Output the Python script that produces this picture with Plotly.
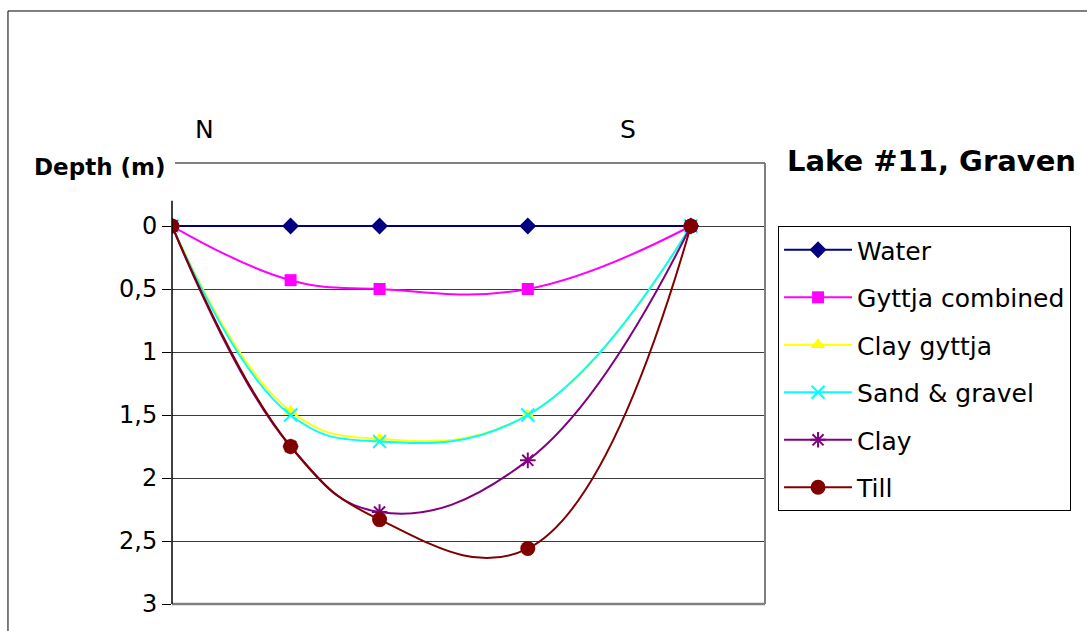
import plotly.graph_objects as go

distance = [0, 40, 70, 120, 175]
water = [0, 0, 0, 0, 0]
gyttja_combined = [0, 0.43, 0.5, 0.5, 0]
clay_gyttja = [0, 1.47, 1.69, 1.5, 0]
sand_gravel = [0, 1.5, 1.71, 1.5, 0]
clay = [0, 1.75, 2.27, 1.86, 0]
till = [0, 1.75, 2.33, 2.56, 0]
y_ticks = [0, 0.5, 1, 1.5, 2, 2.5, 3]

series = [
    ("Water", water, "#000080", dict(symbol="diamond", size=13)),
    ("Gyttja combined", gyttja_combined, "#FF00FF", dict(symbol="square", size=12)),
    ("Clay gyttja", clay_gyttja, "#FFFF00", dict(symbol="triangle-up", size=13)),
    ("Sand & gravel", sand_gravel, "#00FFFF", dict(symbol="x-thin-open", size=13, line=dict(width=2))),
    ("Clay", clay, "#800080", dict(symbol="asterisk-open", size=13, line=dict(width=2))),
    ("Till", till, "#800000", dict(symbol="circle", size=15)),
]

FONT = "DejaVu Sans, Arial, sans-serif"

fig = go.Figure()
for i, (name, vals, color, mk) in enumerate(series):
    m = dict(color=color, **mk)
    if "line" in m:
        m["line"] = dict(color=color, width=m["line"]["width"])
    fig.add_trace(go.Scatter(
        x=distance, y=vals, name=name, mode="lines+markers",
        line=dict(color=color, width=2, shape="spline", smoothing=1.2),
        marker=m, legendgroup=f"g{i}",
    ))

fig.update_layout(
    width=1087, height=631,
    margin=dict(l=172, r=322, t=163, b=27),
    paper_bgcolor="white", plot_bgcolor="white",
    separators=",.",
    font=dict(family=FONT, color="black"),
    showlegend=True,
    legend=dict(
        x=1.022, y=0.857, xanchor="left", yanchor="top",
        bordercolor="black", borderwidth=1, bgcolor="white",
        font=dict(size=25), traceorder="grouped", tracegroupgap=12,
        itemwidth=68,
    ),
    xaxis=dict(range=[0, 200], showgrid=False, showticklabels=False, ticks="",
               zeroline=False, showline=False),
    yaxis=dict(range=[3, -0.5], tickvals=y_ticks, ticks="outside", ticklen=9,
               tickcolor="black", tickfont=dict(size=24), showgrid=True,
               gridcolor="#3a3a3a", gridwidth=1, zeroline=False, showline=False),
)

shapes = [
    dict(type="line", xref="paper", yref="paper", x0=0.005, x1=1, y0=1, y1=1,
         line=dict(color="#808080", width=2)),
    dict(type="line", xref="paper", yref="paper", x0=1, x1=1, y0=0, y1=1,
         line=dict(color="#808080", width=2)),
    dict(type="line", xref="paper", yref="paper", x0=0, x1=1, y0=0, y1=0,
         line=dict(color="#808080", width=2.5)),
    dict(type="line", xref="paper", yref="y", x0=0, x1=0, y0=-0.2, y1=3,
         line=dict(color="black", width=1.5)),
    dict(type="line", xref="paper", yref="paper", x0=-0.2766, x1=-0.2766, y0=-0.1, y1=1.3447,
         line=dict(color="black", width=1)),
    dict(type="line", xref="paper", yref="paper", x0=-0.2766, x1=1.6, y0=1.3447, y1=1.3447,
         line=dict(color="black", width=1)),
]
fig.update_layout(shapes=shapes)

def px_x(px):
    return (px - 172) / 593

def px_y(py):
    return (604 - py) / 441

annotations = [
    dict(text="N", x=px_x(204), y=px_y(130), font=dict(size=25)),
    dict(text="S", x=px_x(628), y=px_y(130), font=dict(size=25)),
    dict(text="<b>Lake #11, Graven</b>", x=px_x(931), y=px_y(161), font=dict(size=29)),
    dict(text="<b>Depth (m)</b>", x=px_x(100), y=px_y(167), font=dict(size=23)),
]
for a in annotations:
    a.update(xref="paper", yref="paper", showarrow=False, xanchor="center", yanchor="middle")
fig.update_layout(annotations=annotations)

fig.write_html("out.html")
